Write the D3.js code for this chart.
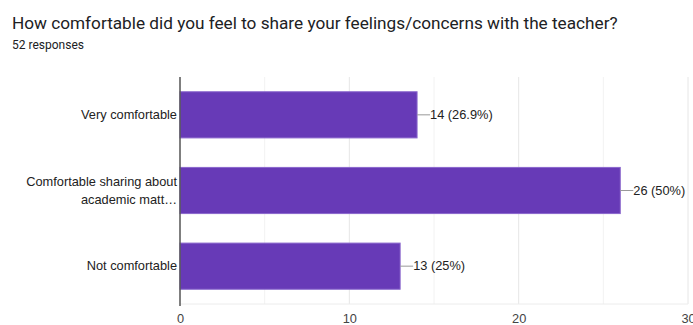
<!DOCTYPE html>
<html lang="en">
<head>
    <meta charset="UTF-8">
    <title></title>
    <style type="text/css">
        html, body { padding:0; margin:0; background:#fff; }
        text { font-family: Arial, "Liberation Sans", sans-serif; }
    </style>
</head>
<body>
<script src="https://d3js.org/d3.v7.min.js"></script>
<script type="text/javascript">
    var categories = [
        ['Very comfortable'],
        ['Comfortable sharing about', 'academic matt\u2026'],
        ['Not comfortable']
    ];
    var counts = [14, 26, 13];
    var percents = ['26.9%', '50%', '25%'];
    var xTicks = [0, 10, 20, 30];
    var gridTicks = [5, 10, 15, 20, 25, 30];

    var width = 693,
        height = 325,
        plotLeft = 180, plotRight = 688,
        plotTop = 77, plotBottom = 304,
        labelSize = 12.8,
        svg;

    svg = d3.select('body').append('svg')
            .attr('width', width)
            .attr('height', height);

    var xScale = d3.scaleLinear().domain([0, 30]).range([plotLeft, plotRight]);
    var yScale = d3.scaleBand().domain(d3.range(counts.length)).range([plotTop, plotBottom])
                   .paddingInner(0.39).paddingOuter(0.195);

    svg.append('text')
        .attr('x', 12).attr('y', 29)
        .attr('font-size', 17.2).attr('fill', '#202124')
        .style('font-family', 'Roboto, Arial, sans-serif')
        .text('How comfortable did you feel to share your feelings/concerns with the teacher?');

    svg.append('text')
        .attr('x', 12).attr('y', 49)
        .attr('font-size', 12).attr('fill', '#202124')
        .style('font-family', 'Roboto, Arial, sans-serif')
        .text('52 responses');

    // grid
    svg.append('g').selectAll('line')
        .data(gridTicks)
        .enter()
        .append('line')
        .attr('x1', function(d) { return xScale(d); })
        .attr('x2', function(d) { return xScale(d); })
        .attr('y1', plotTop).attr('y2', plotBottom)
        .attr('stroke', function(d) { return d % 10 === 0 ? '#e6e6e6' : '#f2f2f2'; });

    svg.append('line')
        .attr('x1', plotLeft).attr('x2', plotRight)
        .attr('y1', plotBottom).attr('y2', plotBottom)
        .attr('stroke', '#ececec');

    var xAxis = d3.axisBottom(xScale).tickValues(xTicks).tickSize(0).tickPadding(10);
    var gx = svg.append('g')
        .attr('transform', 'translate(0,' + plotBottom + ')')
        .call(xAxis);
    gx.select('.domain').remove();
    gx.selectAll('text').attr('font-size', labelSize).attr('fill', '#444')
        .attr('font-family', 'Arial, "Liberation Sans", sans-serif');

    // bars
    svg.append('g').selectAll('rect')
        .data(counts)
        .enter()
        .append('rect')
        .attr('x', xScale(0))
        .attr('y', function(d, i) { return yScale(i); })
        .attr('width', function(d) { return xScale(d) - xScale(0); })
        .attr('height', yScale.bandwidth())
        .attr('fill', '#673ab7')
        .attr('stroke', '#8a67cc')
        .attr('stroke-width', 1);

    // left axis line
    svg.append('line')
        .attr('x1', plotLeft).attr('x2', plotLeft)
        .attr('y1', plotTop).attr('y2', plotBottom + 2)
        .attr('stroke', '#555').attr('stroke-width', 1.5);

    // category labels
    var cat = svg.append('g').selectAll('text')
        .data(categories)
        .enter()
        .append('text')
        .attr('text-anchor', 'end')
        .attr('font-size', labelSize)
        .attr('fill', '#222')
        .attr('y', function(d, i) {
            return yScale(i) + yScale.bandwidth() / 2 + 4 - (d.length - 1) * 9;
        });
    cat.selectAll('tspan')
        .data(function(d) { return d; })
        .enter()
        .append('tspan')
        .attr('x', plotLeft - 3)
        .attr('dy', function(d, j) { return j === 0 ? 0 : 18; })
        .text(function(d) { return d; });

    // value labels with leader lines
    var vl = svg.append('g').selectAll('g')
        .data(counts)
        .enter()
        .append('g');
    vl.append('line')
        .attr('x1', function(d) { return xScale(d); })
        .attr('x2', function(d) { return xScale(d) + 13; })
        .attr('y1', function(d, i) { return yScale(i) + yScale.bandwidth() / 2; })
        .attr('y2', function(d, i) { return yScale(i) + yScale.bandwidth() / 2; })
        .attr('stroke', '#999');
    vl.append('text')
        .attr('x', function(d) { return xScale(d) + 13; })
        .attr('y', function(d, i) { return yScale(i) + yScale.bandwidth() / 2 + 4; })
        .attr('font-size', labelSize)
        .attr('fill', '#222')
        .text(function(d, i) { return d + ' (' + percents[i] + ')'; });
</script>
</body>
</html>
